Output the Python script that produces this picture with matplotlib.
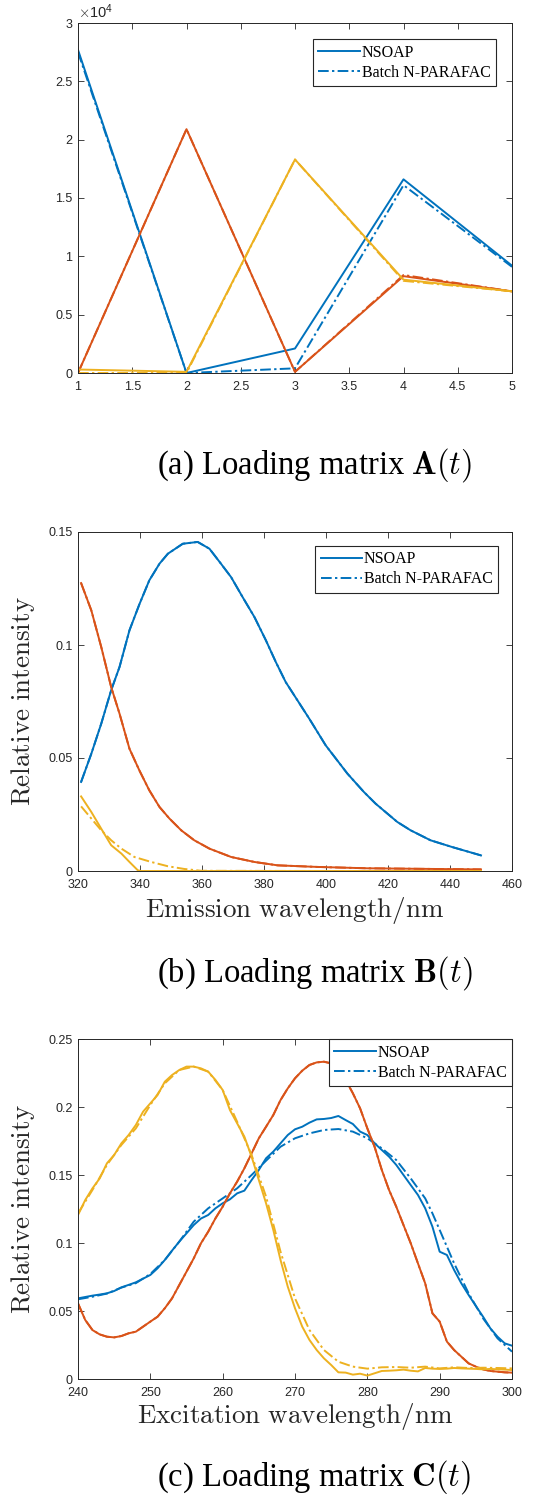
import numpy as np
import matplotlib
matplotlib.use("Agg")
import matplotlib.pyplot as plt
from matplotlib.ticker import FuncFormatter

plt.rcParams['mathtext.fontset'] = 'cm'
plt.rcParams['font.family'] = 'Liberation Sans'

BLUE = '#0072BD'
RED = '#D95319'
YELLOW = '#EDB120'
DARK = '#262626'
DASHDOT = (0, (5.5, 1.7, 1.2, 1.7))

# ---- (a) loading matrix A(t), samples 1..5 ----
a_x = [1, 2, 3, 4, 5]
a_blue = [27700, 0, 2100, 16600, 9200]
a_blue_batch = [27500, 0, 400, 16100, 9100]
a_red = [0, 20900, 100, 8300, 7000]
a_red_batch = [0, 20900, 100, 8400, 7000]
a_yellow = [300, 100, 18300, 8000, 7000]
a_yellow_batch = [0, 0, 18300, 7900, 7000]

# ---- (b) emission loadings ----
b_blue_x = [321, 324.3, 327.5, 330.7, 333.4, 336.6, 339.8, 343, 346.3, 349,
            353.8, 358.6, 362.4, 366.1, 369.4, 373.1, 376.9, 380.6, 383.8, 387,
            390.8, 394.6, 399.9, 406.9, 412.2, 416, 423, 427.3, 433.7, 440.7, 450]
b_blue = [0.0394, 0.0519, 0.0652, 0.0800, 0.0903, 0.1065, 0.1180, 0.1286, 0.1360, 0.1404,
          0.1448, 0.1456, 0.1426, 0.1360, 0.1300, 0.1212, 0.1124, 0.1021, 0.0925, 0.0836,
          0.0755, 0.0674, 0.0556, 0.0431, 0.0350, 0.0298, 0.0217, 0.0180, 0.0136, 0.0106, 0.0069]
b_red_x = [321, 324.3, 327.5, 330.7, 333.4, 336.6, 339.8, 343, 346.3, 349.5,
           353.3, 357.5, 362.4, 369.4, 376.9, 384.4, 397.2, 413.3, 434.8, 450]
b_red = [0.1274, 0.1153, 0.0991, 0.0814, 0.0696, 0.0541, 0.0445, 0.0357, 0.0283, 0.0232,
         0.0180, 0.0136, 0.0099, 0.0062, 0.0040, 0.0025, 0.0018, 0.0012, 0.0009, 0.0007]
b_yellow_x = [321, 324.3, 327.5, 330.7, 334, 336.6, 339.3, 340.4, 360, 400, 450]
b_yellow = [0.0330, 0.0261, 0.0187, 0.0114, 0.0077, 0.0040, 0.0003, 0, 0, 0, 0]
b_yellow_batch_x = [321, 324.3, 327.5, 330.7, 334, 338.2, 343.6, 349, 354.3, 359.7, 400, 450]
b_yellow_batch = [0.0286, 0.0232, 0.0180, 0.0136, 0.0099, 0.0062, 0.0040, 0.0021, 0.0009, 0.0001, 0, 0]

# ---- (c) excitation loadings ----
c_x = list(range(240, 301))
c_x2 = list(range(240, 301, 2))
c_blue = [0.0593, 0.0603, 0.0613, 0.0621, 0.0630, 0.0647, 0.0674, 0.0692, 0.0711, 0.0738,
          0.0765, 0.0814, 0.0875, 0.0944, 0.1010, 0.1071, 0.1132, 0.1180, 0.1206, 0.1255,
          0.1292, 0.1321, 0.1365, 0.1385, 0.1463, 0.1537, 0.1623, 0.1672, 0.1733, 0.1794,
          0.1836, 0.1855, 0.1885, 0.1909, 0.1912, 0.1919, 0.1934, 0.1904, 0.1875, 0.1819,
          0.1794, 0.1733, 0.1684, 0.1635, 0.1574, 0.1500, 0.1426, 0.1353, 0.1255, 0.1120,
          0.0936, 0.0912, 0.0801, 0.0703, 0.0618, 0.0537, 0.0458, 0.0373, 0.0311, 0.0262, 0.0245]
c_blue_batch_x = [240, 242, 244, 246, 248, 250, 252, 254, 256, 258, 260, 262, 264, 266, 268,
                  270, 272, 274, 276, 278, 280, 282, 284, 286, 288, 289, 290, 292, 294, 296,
                  298, 300]
c_blue_batch = [0.0586, 0.0605, 0.0628, 0.0672, 0.0705, 0.0772, 0.0875, 0.1010, 0.1157, 0.1255,
                0.1328, 0.1402, 0.1500, 0.1605, 0.1708, 0.1770, 0.1806, 0.1831, 0.1838, 0.1819,
                0.1770, 0.1696, 0.1610, 0.1475, 0.1328, 0.1218, 0.1096, 0.0850, 0.0630, 0.0446,
                0.0299, 0.0201]
c_red = [0.0556, 0.0434, 0.0360, 0.0328, 0.0311, 0.0306, 0.0316, 0.0336, 0.0348, 0.0385,
         0.0422, 0.0458, 0.0520, 0.0593, 0.0691, 0.0789, 0.0887, 0.0998, 0.1083, 0.1181,
         0.1267, 0.1365, 0.1451, 0.1549, 0.1659, 0.1770, 0.1855, 0.1941, 0.2051, 0.2137,
         0.2211, 0.2267, 0.2309, 0.2328, 0.2333, 0.2321, 0.2260, 0.2199, 0.2101, 0.1990,
         0.1843, 0.1708, 0.1537, 0.1390, 0.1267, 0.1132, 0.0998, 0.0850, 0.0703, 0.0483,
         0.0422, 0.0275, 0.0213, 0.0164, 0.0115, 0.0091, 0.0071, 0.0059, 0.0054, 0.0049, 0.0047]
c_yellow = [0.1206, 0.1316, 0.1402, 0.1475, 0.1586, 0.1647, 0.1733, 0.1794, 0.1868, 0.1966,
            0.2027, 0.2088, 0.2186, 0.2235, 0.2272, 0.2297, 0.2297, 0.2284, 0.2260, 0.2199,
            0.2125, 0.1978, 0.1880, 0.1782, 0.1635, 0.1463, 0.1292, 0.1096, 0.0875, 0.0679,
            0.0520, 0.0385, 0.0287, 0.0213, 0.0152, 0.0103, 0.0049, 0.0047, 0.0032, 0.0039,
            0.0025, 0.0042, 0.0059, 0.0061, 0.0064, 0.0069, 0.0061, 0.0056, 0.0081, 0.0076,
            0.0074, 0.0076, 0.0081, 0.0078, 0.0076, 0.0074, 0.0071, 0.0074, 0.0071, 0.0069, 0.0066]
c_yellow_batch = [0.1218, 0.1390, 0.1574, 0.1721, 0.1843, 0.2015, 0.2174, 0.2272, 0.2297, 0.2260,
                  0.2125, 0.1892, 0.1647, 0.1341, 0.0936, 0.0593, 0.0360, 0.0213, 0.0127, 0.0091,
                  0.0076, 0.0086, 0.0088, 0.0083, 0.0091, 0.0078, 0.0086, 0.0081, 0.0083, 0.0081,
                  0.0078]

LW = 1.4
W, H = 533, 1502
label_font = dict(fontsize=19.5, color=DARK, family='serif')
caption_font = dict(fontsize=23.5, family='Liberation Serif', color='black')


def px(x, y):
    # pixel position (from top-left) to figure fraction
    return x / W, 1 - y / H


def style_axes(ax):
    for sp in ax.spines.values():
        sp.set_color(DARK)
        sp.set_linewidth(0.7)
    ax.tick_params(direction='in', length=4, width=0.6, colors=DARK,
                   labelsize=9, top=True, right=True)
    ax.tick_params(axis='x', pad=5.5)
    ax.tick_params(axis='y', pad=4)
    fmt = FuncFormatter(lambda v, p: '%g' % v)
    ax.xaxis.set_major_formatter(fmt)
    ax.yaxis.set_major_formatter(fmt)


def add_legend(ax, h1, h2, **kw):
    leg = ax.legend([h1, h2], ['NSOAP', 'Batch N-PARAFAC'], loc='upper right',
                    prop={'family': 'Liberation Serif', 'size': 11.5},
                    fancybox=False, framealpha=1, edgecolor=DARK,
                    handlelength=2.6, handletextpad=0.1, borderpad=0.35,
                    labelspacing=0.25, **kw)
    leg.get_frame().set_linewidth(0.8)
    return leg


def axis_labels(ax, xlabel, base_y, mid_y):
    fig.text(*px(295, base_y), r'$\mathrm{%s}$' % xlabel.replace(' ', r'\ '),
             ha='center', va='baseline', **label_font)
    fig.text(*px(23, mid_y), r'$\mathrm{Relative\ intensity}$', rotation=90,
             ha='center', va='center', **label_font)


def caption(text, base_y):
    fig.text(*px(314.5, base_y), text, ha='center', va='baseline', **caption_font)


fig = plt.figure(figsize=(W / 100, H / 100), dpi=100)

# (a)
ax1 = fig.add_axes([78 / W, 1 - 373 / H, 434 / W, 350 / H])
h1, = ax1.plot(a_x, a_blue, color=BLUE, lw=LW)
h2, = ax1.plot(a_x, a_blue_batch, color=BLUE, lw=LW, linestyle=DASHDOT)
ax1.plot(a_x, a_red, color=RED, lw=LW)
ax1.plot(a_x, a_red_batch, color=RED, lw=LW, linestyle=DASHDOT)
ax1.plot(a_x, a_yellow, color=YELLOW, lw=LW)
ax1.plot(a_x, a_yellow_batch, color=YELLOW, lw=LW, linestyle=DASHDOT)
ax1.set_xlim(1, 5)
ax1.set_ylim(0, 30000)
ax1.set_xticks(np.arange(1, 5.01, 0.5))
ax1.set_yticks(np.arange(0, 30001, 5000))
style_axes(ax1)
ax1.yaxis.set_major_formatter(FuncFormatter(lambda v, p: '%g' % (v / 1e4)))
ax1.text(0.0, 1.006, r'$\times\mathregular{10^{4}}$', transform=ax1.transAxes,
         fontsize=10.5, color=DARK, ha='left', va='bottom')
add_legend(ax1, h1, h2, borderaxespad=1.0)
caption(r'(a) Loading matrix $\mathbf{A}(t)$', 474)

# (b)
ax2 = fig.add_axes([78 / W, 1 - 871 / H, 434 / W, 339 / H])
h1, = ax2.plot(b_blue_x, b_blue, color=BLUE, lw=LW)
h2, = ax2.plot(b_blue_x, b_blue, color=BLUE, lw=LW, linestyle=DASHDOT)
ax2.plot(b_red_x, b_red, color=RED, lw=LW)
ax2.plot(b_red_x, b_red, color=RED, lw=LW, linestyle=DASHDOT)
ax2.plot(b_yellow_x, b_yellow, color=YELLOW, lw=LW)
ax2.plot(b_yellow_batch_x, b_yellow_batch, color=YELLOW, lw=LW, linestyle=DASHDOT)
ax2.set_xlim(320, 460)
ax2.set_ylim(0, 0.15)
ax2.set_xticks(np.arange(320, 461, 20))
ax2.set_yticks([0, 0.05, 0.1, 0.15])
style_axes(ax2)
axis_labels(ax2, 'Emission wavelength/nm', 917, 701.5)
add_legend(ax2, h1, h2, borderaxespad=0.85)
caption(r'(b) Loading matrix $\mathbf{B}(t)$', 982)

# (c)
ax3 = fig.add_axes([78 / W, 1 - 1379 / H, 434 / W, 340 / H])
h1, = ax3.plot(c_x, c_blue, color=BLUE, lw=LW)
h2, = ax3.plot(c_blue_batch_x, c_blue_batch, color=BLUE, lw=LW, linestyle=DASHDOT)
ax3.plot(c_x, c_red, color=RED, lw=LW)
ax3.plot(c_x, c_red, color=RED, lw=LW, linestyle=DASHDOT)
ax3.plot(c_x, c_yellow, color=YELLOW, lw=LW)
ax3.plot(c_x2, c_yellow_batch, color=YELLOW, lw=LW, linestyle=DASHDOT)
ax3.set_xlim(240, 300)
ax3.set_ylim(0, 0.25)
ax3.set_xticks(np.arange(240, 301, 10))
ax3.set_yticks(np.arange(0, 0.251, 0.05))
style_axes(ax3)
axis_labels(ax3, 'Excitation wavelength/nm', 1423, 1209)
add_legend(ax3, h1, h2, borderaxespad=0.0)
caption(r'(c) Loading matrix $\mathbf{C}(t)$', 1486)

fig.savefig('out.png', dpi=100)
